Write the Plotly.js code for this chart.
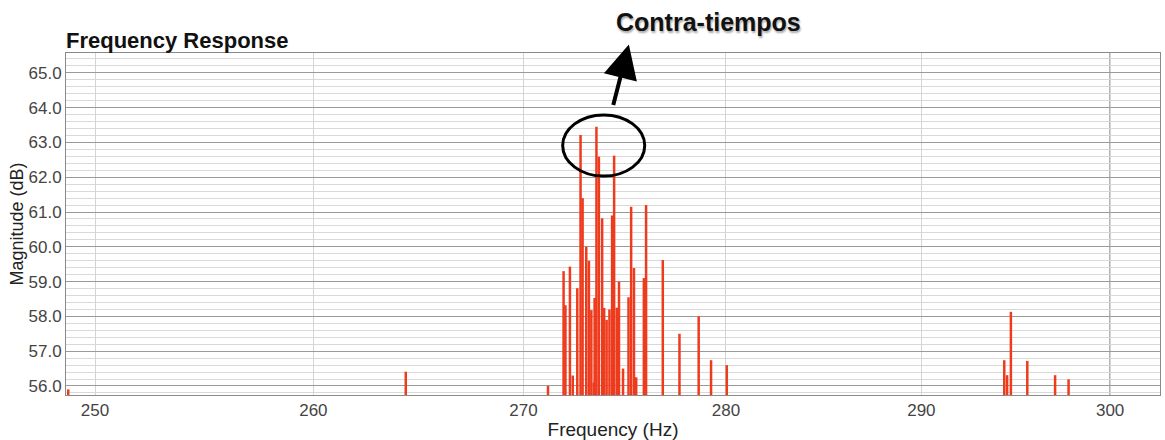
<!DOCTYPE html>
<html>
<head>
<meta charset="utf-8">
<script src="https://cdn.plot.ly/plotly-3.0.1.min.js"></script>
<style>
  html, body { margin: 0; padding: 0; background: #fff; }
  #chart { width: 1165px; height: 440px; }
</style>
</head>
<body>
<div id="chart"></div>
<script>
// Peak frequencies (Hz) and magnitudes (dB)
const freqs = [248.8, 264.35, 271.19, 271.95, 272.04, 272.26, 272.40, 272.62, 272.78, 272.88,
  273.06, 273.19, 273.31, 273.43, 273.47, 273.56, 273.68, 273.84, 273.94, 274.06,
  274.20, 274.33, 274.43, 274.56, 274.67, 274.87, 275.14, 275.27, 275.41, 275.52,
  275.90, 276.01, 276.84, 277.67, 278.63, 279.25, 280.04,
  294.35, 294.50, 294.70, 295.57, 297.05, 297.77];
const mags = [55.9, 56.41, 56.0, 59.30, 58.32, 59.43, 56.3, 58.81, 63.21, 61.40,
  60.0, 59.6, 58.18, 56.1, 58.53, 63.45, 62.59, 60.82, 58.24, 57.9,
  58.2, 60.9, 62.62, 58.25, 59.0, 56.5, 58.55, 61.15, 59.39, 56.25,
  59.1, 61.2, 59.62, 57.5, 58.0, 56.74, 56.6,
  56.74, 56.31, 58.13, 56.72, 56.31, 56.19];
const xTicks = [250, 260, 270, 280, 290, 300];
const xTickLabels = ['250', '260', '270', '280', '290', '300'];
const yTicks = [56, 57, 58, 59, 60, 61, 62, 63, 64, 65];
const yTickLabels = yTicks.map(v => v.toFixed(1));

const yMin = 55.74, yMax = 65.57;
const xMin = 248.7, xMax = 302.7;

const sx = [], sy = [];
freqs.forEach((f, i) => { sx.push(f, f, null); sy.push(yMin, mags[i], null); });

const trace = {
  x: sx, y: sy, type: 'scatter', mode: 'lines',
  line: { color: '#ee3b1d', width: 2.5 },
  hoverinfo: 'skip', showlegend: false
};

const FONT = 'Liberation Sans, Arial, Helvetica, sans-serif';
const lastTick = xTicks[xTicks.length - 1];

const layout = {
  width: 1165, height: 440,
  margin: { l: 66, r: 5, t: 53, b: 45 },
  paper_bgcolor: '#ffffff', plot_bgcolor: '#ffffff',
  font: { family: FONT, color: '#444' },
  title: {
    text: '<b>Frequency Response</b>',
    font: { family: FONT, size: 22, color: '#111' },
    x: 66 / 1165, xanchor: 'left', xref: 'container',
    y: 1 - 40 / 440, yanchor: 'middle', yref: 'container'
  },
  xaxis: {
    type: 'log',
    range: [Math.log10(xMin), Math.log10(xMax)],
    tickmode: 'array', tickvals: xTicks, ticktext: xTickLabels,
    tickfont: { size: 17, color: '#444' },
    showgrid: true, gridcolor: '#d4d4d4', gridwidth: 1,
    showline: true, linecolor: '#8a8a8a', linewidth: 1, mirror: true,
    ticks: '', zeroline: false,
    title: { text: 'Frequency (Hz)', font: { size: 19, color: '#222' }, standoff: 3 }
  },
  yaxis: {
    range: [yMin, yMax],
    tickmode: 'array', tickvals: yTicks, ticktext: yTickLabels,
    tickfont: { size: 17, color: '#444' },
    showgrid: true, gridcolor: '#9a9a9a', gridwidth: 1,
    minor: { dtick: 0.2, showgrid: true, gridcolor: '#d9d9d9', gridwidth: 1, ticks: '' },
    showline: true, linecolor: '#8a8a8a', linewidth: 1, mirror: true,
    ticks: '', zeroline: false,
    title: { text: 'Magnitude (dB)', font: { size: 18, color: '#222' }, standoff: 0 }
  },
  shapes: [
    { type: 'line', xref: 'x', yref: 'paper', x0: lastTick, x1: lastTick, y0: 0, y1: 1,
      line: { color: '#8a8a8a', width: 1.5 }, layer: 'below' },
    { type: 'circle', xref: 'paper', yref: 'paper',
      x0: 0.454, x1: 0.529, y0: 0.640, y1: 0.819,
      line: { color: '#000', width: 3 } }
  ],
  annotations: [
    { xref: 'paper', yref: 'paper', x: 0.5145, y: 1.025, ax: -16, ay: 62,
      text: '', showarrow: true, arrowhead: 2, arrowsize: 1.7, arrowwidth: 4, arrowcolor: '#000' },
    { xref: 'paper', yref: 'paper', x: 0.5875, y: 1.0, yshift: 31, xanchor: 'center', yanchor: 'middle',
      text: '<b>Contra-tiempos</b>', showarrow: false,
      font: { family: FONT, size: 25, color: '#111', shadow: '1px 2px 2px #aaa' } }
  ]
};

Plotly.newPlot('chart', [trace], layout, { staticPlot: true, displayModeBar: false });
</script>
</body>
</html>
